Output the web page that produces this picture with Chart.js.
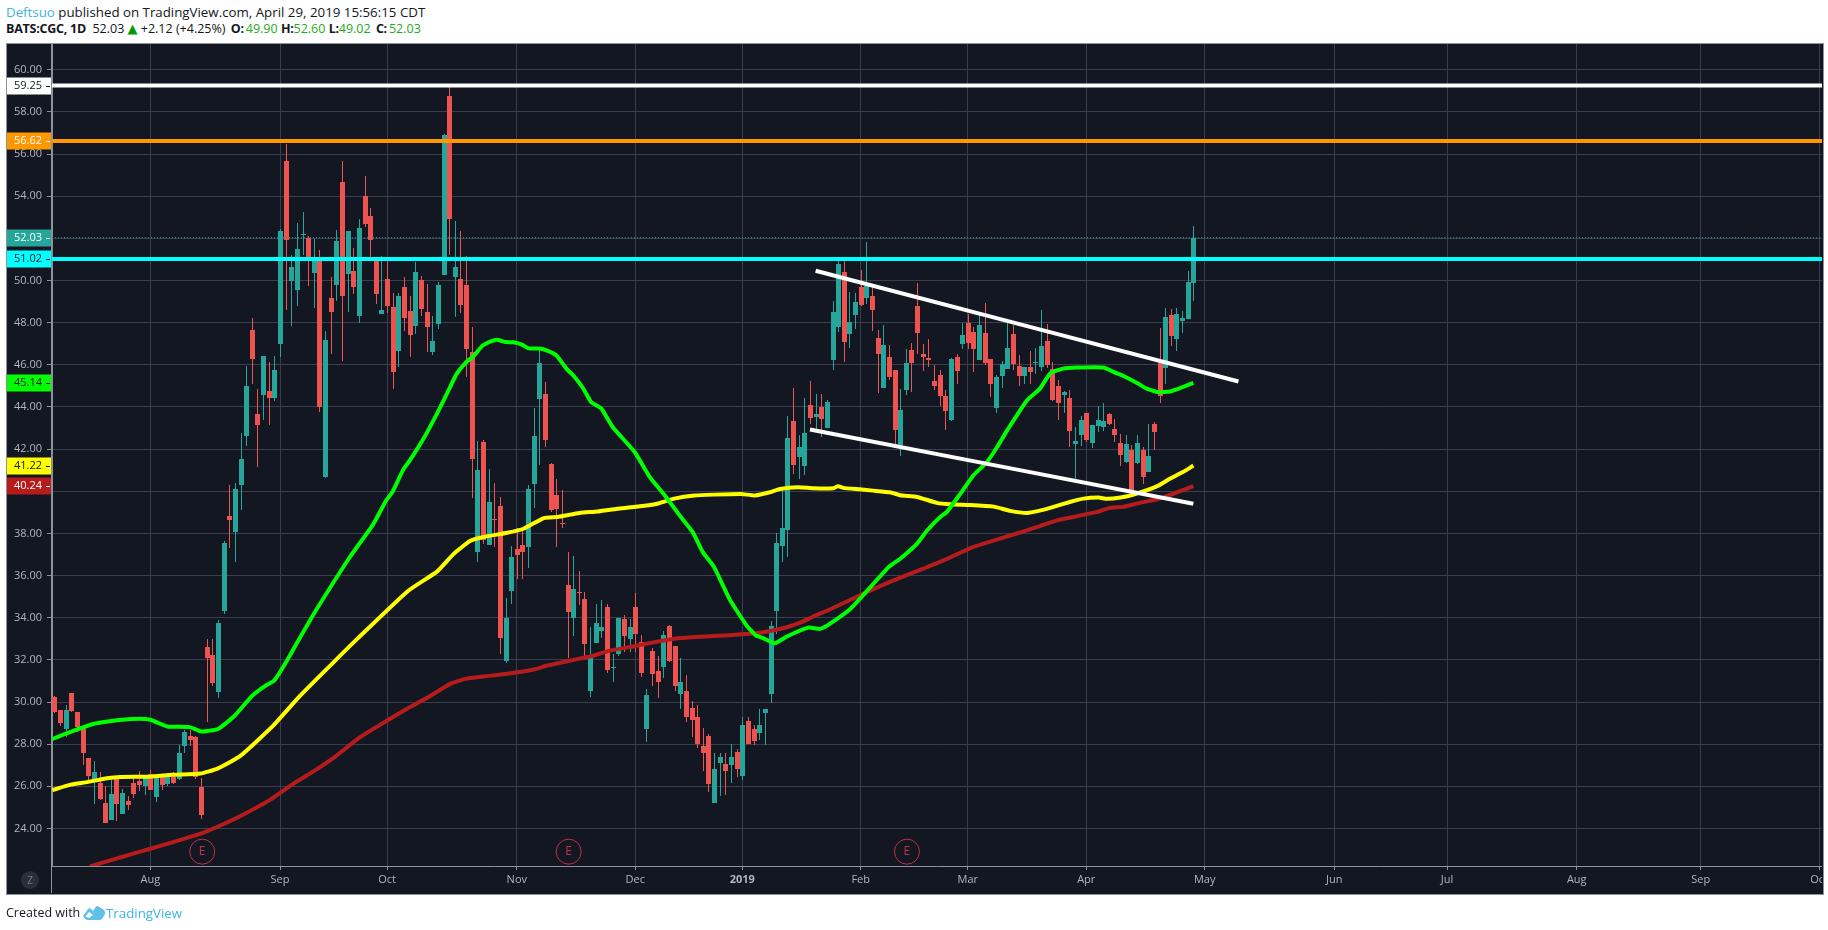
<!DOCTYPE html>
<html>
<head>
<meta charset="utf-8">
<title>BATS:CGC, 1D</title>
<script src="https://cdn.jsdelivr.net/npm/chart.js@4"></script>
<style>
  html, body { margin: 0; padding: 0; background: #fff; overflow: hidden; }
  body { width: 1828px; height: 930px; position: relative; font-family: "Open Sans", sans-serif; color: #131722; }
  .line { position: absolute; left: 6px; font-size: 13.3px; white-space: nowrap; line-height: 18px; }
  .line2 { font-size: 12.5px; }
  .line2 b { letter-spacing: -0.25px; }
  .line2 b.gap { margin-left: 2px; margin-right: 2px; }
  .tri { color: #009900; font-family: "DejaVu Sans"; font-size: 13px; line-height: 12px; }
  .blue { color: #3bb3e4; }
  .up { color: #22ab22; }
  .frame { position: absolute; left: 6px; top: 43px; width: 1816px; height: 850px; border: 1px solid #8f929b; background: #131722; }
  canvas { position: absolute; left: 0; top: 0; }
  .zbtn { position: absolute; left: 21px; top: 871px; width: 18px; height: 18px; border-radius: 50%; background: #2a2e39; color: #787b86; font-size: 10px; line-height: 18px; text-align: center; }
  .logo { position: absolute; left: 82px; top: 905px; }
</style>
</head>
<body>
<div class="line" style="top:3px"><span class="blue">Deftsuo</span> published on TradingView.com, April 29, 2019 15:56:15 CDT</div>
<div class="line line2" style="top:20px"><b>BATS:CGC, 1D</b>&nbsp; 52.03 <span class="tri">▲</span> +2.12 (+4.25%) <b class="gap">O:</b><span class="up">49.90</span> <b>H:</b><span class="up">52.60</span> <b>L:</b><span class="up">49.02</span> <b class="gap">C:</b><span class="up">52.03</span></div>
<div class="frame"><canvas id="chart" width="1815" height="849"></canvas></div>
<div class="zbtn">Z</div>
<div class="line" style="top:904px;font-size:12.5px">Created with</div>
<svg class="logo" width="24" height="16" viewBox="0 0 24 16"><path d="M1 11 L6 4 Q7.5 2.5 9 4 L11 6 L14 1.5 Q15 0.5 16.5 1.5 L22 5 Q23.5 7 23 9 L20 14 Q19 15 17 15 L6 15 Q3 15 1 11 Z M7 7 L3.5 11.5 L7 13 L11 10 Z" fill="#5fc0e8" fill-rule="evenodd"/></svg>
<div class="line blue" style="top:904px;left:106px;font-size:13.3px">TradingView</div>

<script>
// first candle is 17 sessions before Aug 1 2018 (index 0), last one is Apr 29 2019
const firstIndex = -17;

const opens = [
  30.25,29.64,28.72,30.44,29.51,28.73,27.33,26.31,26.17,25.22,
  24.41,26.38,24.70,25.32,26.17,26.23,26.03,26.6,25.51,26.44,
  26.12,26.44,26.35,27.93,28.4,28.35,25.98,32.59,32.21,30.47,
  34.34,38.81,38.05,40.28,42.6,47.64,43.65,44.55,44.74,44.41,
  47.0,55.69,49.99,49.57,52.2,52.02,50.37,51.0,40.69,49.19,
  49.8,54.69,50.33,50.47,48.33,54.03,53.08,50.94,48.43,50.09,
  48.76,46.67,49.71,48.57,47.86,50.04,48.52,46.62,47.95,50.28,
  58.73,50.18,50.09,49.8,46.62,37.1,42.32,37.43,38.7,39.28,
  31.97,35.25,37.24,37.43,37.34,40.33,44.36,44.6,41.28,39.8,
  38.48,35.53,33.97,35.2,34.91,30.5,32.78,33.35,34.53,31.6,
  32.26,33.92,32.97,34.49,32.83,28.74,32.4,31.45,31.64,33.63,
  32.64,30.36,30.5,29.74,29.31,27.93,28.41,25.23,27.13,27.08,
  27.03,27.65,26.47,29.08,28.7,28.51,29.5,30.39,34.33,37.41,
  38.15,43.32,41.61,41.19,44.08,43.51,43.99,42.99,46.22,47.78,
  50.4,47.45,48.35,49.68,49.16,49.26,47.26,44.89,46.36,45.74,
  42.18,44.79,46.69,48.78,46.5,46.31,45.22,45.51,44.51,43.37,
  46.36,46.98,47.97,47.55,46.22,47.5,46.27,43.94,45.46,45.79,
  47.45,45.93,45.46,45.89,46.08,45.89,47.12,45.79,44.98,44.56,
  44.41,42.23,42.66,43.7,42.28,43.09,43.04,43.65,42.94,42.28,
  41.38,41.95,41.33,41.95,40.9,43.18,46.08,45.84,48.35,47.22,48.07,48.16,49.90
];
const highs = [
  30.28,29.64,29.87,30.44,29.54,28.75,27.36,27.22,26.68,26.03,
  26.31,26.4,25.89,25.52,26.39,26.74,26.5,26.79,26.55,26.55,
  26.47,26.69,27.97,28.69,28.69,28.4,26.41,32.97,32.97,33.87,
  37.62,40.28,40.37,42.75,45.93,48.21,44.84,46.4,46.12,46.4,
  52.46,56.48,51.23,52.75,53.27,52.13,51.99,51.47,47.62,50.18,
  52.41,55.69,52.37,51.56,52.94,54.98,53.46,51.0,51.18,51.13,
  49.42,49.4,50.18,49.28,50.9,50.23,49.85,48.33,49.95,56.97,
  59.16,52.84,52.37,51.18,47.81,42.37,42.41,41.04,40.37,39.71,
  34.92,37.38,38.28,38.14,40.28,43.93,46.69,45.17,41.32,40.56,
  40.04,37.1,36.91,36.24,35.2,33.54,34.63,34.82,34.63,32.3,
  34.01,34.11,33.92,35.15,33.16,30.64,32.54,32.16,33.35,33.65,
  32.66,32.07,31.26,30.07,29.84,28.79,28.46,27.56,27.6,27.56,
  28.03,27.75,29.27,29.27,28.93,29.69,29.69,33.85,38.03,40.02,
  43.56,44.89,42.66,44.41,45.22,44.6,44.6,44.32,49.02,50.92,
  50.92,49.45,49.4,50.49,51.82,49.68,47.64,47.88,46.93,45.74,
  44.84,46.74,47.03,49.87,46.98,47.22,45.98,45.74,44.79,46.31,
  46.5,47.97,48.4,47.78,48.35,48.92,46.27,45.51,46.17,47.97,
  47.88,46.46,45.89,46.65,46.79,48.59,47.93,46.12,45.27,44.75,
  44.79,43.04,43.56,43.72,43.13,44.03,44.18,43.7,43.42,42.71,
  42.66,42.18,42.66,42.09,43.18,43.28,47.74,48.69,48.64,48.69,48.54,50.44,52.60
];
const lows = [
  29.5,28.88,28.32,29.55,28.56,27.03,26.31,25.17,25.36,24.24,
  24.41,24.37,24.70,24.89,25.46,25.79,25.6,25.84,25.27,25.84,
  26.03,26.12,26.31,27.59,27.93,26.36,24.46,29.07,30.75,30.18,
  34.16,37.29,36.62,39.09,42.13,45.07,41.13,43.36,43.13,44.27,
  46.39,48.62,47.86,48.81,51.23,49.76,48.71,43.78,40.64,46.53,
  49.04,46.2,48.52,49.38,48.0,52.56,51.09,48.9,48.43,48.47,
  44.87,45.91,47.62,46.39,47.48,48.33,46.62,46.48,47.72,50.28,
  51.23,48.28,48.47,45.44,39.69,36.62,37.5,37.43,37.34,32.3,
  31.83,34.63,35.86,35.86,36.34,39.19,41.23,42.08,39.0,37.34,
  38.24,32.07,33.11,34.58,32.2,30.26,32.78,33.06,31.4,30.93,
  32.2,32.35,32.35,32.35,31.2,28.08,30.78,30.21,31.16,31.9,
  30.5,29.69,29.03,28.32,27.84,26.75,25.75,25.2,25.56,25.6,
  26.18,26.46,26.28,28.0,27.98,28.22,27.98,29.96,33.23,36.65,
  36.88,40.81,40.57,40.76,43.18,42.88,42.56,42.99,45.74,47.55,
  46.12,46.79,47.69,48.78,48.88,47.59,44.65,44.89,45.3,42.23,
  41.66,44.56,44.7,46.5,45.7,45.89,44.79,44.03,42.9,43.32,
  45.08,46.74,46.74,45.65,46.22,45.98,44.46,43.7,44.89,45.79,
  45.74,44.98,45.08,45.08,45.55,45.7,45.84,44.3,43.37,43.7,
  42.09,40.57,42.14,42.33,42.04,42.8,42.85,43.13,42.33,41.19,
  41.33,39.9,41.28,40.33,40.9,41.95,44.18,45.08,46.88,46.65,47.5,48.16,49.02
];
const closes = [
  29.55,29.0,29.64,29.57,28.81,27.59,26.47,26.66,25.41,24.27,
  25.65,25.17,25.70,25.13,25.65,26.08,26.42,25.84,26.42,26.08,
  26.42,26.17,27.59,28.59,28.21,26.44,24.62,32.08,30.9,33.73,
  37.53,38.62,40.09,41.51,44.98,46.26,43.13,46.4,44.41,45.74,
  52.37,51.94,50.66,51.51,52.22,51.13,50.95,44.01,47.19,48.52,
  51.89,49.28,52.37,49.71,52.51,52.7,51.94,49.38,48.62,48.81,
  45.67,49.28,48.24,47.43,50.42,48.66,47.81,47.15,49.8,56.88,
  52.94,50.66,48.85,46.77,41.54,40.99,37.67,39.47,38.68,33.02,
  33.97,36.86,36.96,37.1,40.09,42.6,46.07,42.41,39.09,39.14,
  38.46,34.25,35.34,35.15,32.73,32.1,33.73,33.54,31.5,31.68,
  34.01,33.11,33.54,33.25,31.4,30.31,31.35,30.97,33.16,31.97,
  30.74,30.93,29.31,29.17,28.03,27.56,26.13,26.8,27.37,26.75,
  27.37,26.8,28.89,28.03,28.17,28.89,29.65,33.61,37.55,38.27,
  42.52,41.23,42.09,42.75,43.47,43.65,43.42,44.22,48.5,50.78,
  47.07,48.02,48.97,48.83,49.73,48.59,46.5,46.93,45.41,42.89,
  43.84,46.08,46.08,47.5,46.36,46.22,44.98,44.51,43.8,46.27,
  45.7,47.41,47.03,46.74,47.88,46.08,45.08,45.41,46.03,46.79,
  46.03,45.46,45.89,45.65,46.12,46.88,45.98,44.32,44.18,44.7,
  42.85,42.37,43.37,42.42,43.13,43.37,43.32,43.18,42.66,41.71,
  42.23,40.05,42.28,40.66,41.66,42.8,44.51,48.26,47.36,48.4,48.21,49.92,52.03
];

// moving averages as (bar index, price)
const greenX = [-17.4,-15,-10,-5,-2,0,3,7,9,12,15,18,20,22,24,26,29.2,35.4,39.5,41.8,43,44.9,46,48.6,50.8,52,53,54.3,56,57.4,58.9,60.3,61.5,63,64.4,65.9,67.1,69,70.4,72,73.8,75,76.8,78.2,80,82,85.9,88.6,91.5,93.9,96.2,98,100,102.7,105.7,107.4,108.7,110.8,112.9,116.7,118.8,120.5,124.2,127.2,131,133,136,137.8,140.1,141.3,143.7,146,148.4,150.2,152,155.5,157.8,159.6,161.9,164.3,169,171.1,172.6,175,176.7,178.8,180.9,183.2,185];
const greenY = [28.24,28.5,28.97,29.16,29.21,29.16,28.84,28.81,28.6,28.72,29.36,30.28,30.7,31.03,31.86,32.8,34.27,36.88,38.42,39.55,39.99,41.05,41.45,42.56,43.66,44.3,44.85,45.56,46.12,46.43,46.9,47.1,47.19,47.08,47.07,46.96,46.78,46.77,46.67,46.45,45.82,45.5,44.87,44.23,43.92,43.05,41.86,40.67,39.72,38.85,38.06,37.11,36.4,34.9,33.65,33.16,33.03,32.79,33.11,33.53,33.47,33.71,34.43,35.3,36.41,36.8,37.52,38.15,38.78,39.02,39.89,40.76,41.39,42.1,42.9,44.32,44.87,45.59,45.82,45.87,45.87,45.63,45.47,45.14,44.87,44.7,44.73,44.95,45.14];
const yellowX = [-17.4,-14.1,-11.2,-7.7,-5.3,0,3.9,8.9,11.9,15.9,21.8,26.5,32.4,36.6,45.7,50.9,53.8,56.7,59.1,63.3,66.2,69.8,72.2,74.5,76.3,79.3,82.8,85.8,89.9,92.9,96.5,100,104.8,107.2,109.9,111.7,114.9,117.6,121.1,122,122.9,125.8,128.2,131.2,133,136,139.5,141.9,145.4,149.6,152.5,155.5,158.5,160.2,163.1,165.5,168.2,169.7,172.1,174.4,178.6,180.9,183.2,185];
const yellowY = [25.82,26.08,26.2,26.38,26.44,26.46,26.55,26.61,26.84,27.43,28.88,30.28,31.86,32.97,35.27,36.2,37.03,37.64,37.83,38.03,38.22,38.73,38.78,38.89,38.98,39.04,39.17,39.25,39.41,39.65,39.8,39.84,39.87,39.8,39.95,40.11,40.19,40.14,40.14,40.24,40.16,40.09,40.03,39.95,39.81,39.73,39.45,39.38,39.35,39.27,39.07,38.97,39.13,39.26,39.49,39.65,39.7,39.64,39.7,39.84,40.24,40.6,40.92,41.22];
const redX = [-10.7,-7.7,-3,0,4.1,8.8,12.4,15.9,21.3,25.4,29,32.5,37.2,42,45.6,49.1,53.2,55.9,59.1,63.3,68,70.4,75.1,78.7,81.1,85.8,89.4,93,96.5,100.7,104.8,108.7,112.9,115.5,117.6,120.4,126.5,131.2,137.1,140.7,146,150.7,154.9,157.8,160.8,163.7,167.9,170.2,172.6,175.5,178.6,181.5,185];
const redY = [22.2,22.44,22.81,23.04,23.36,23.74,24.14,24.58,25.37,26.13,26.72,27.35,28.33,29.12,29.69,30.2,30.86,31.1,31.21,31.34,31.54,31.73,32.0,32.21,32.41,32.65,32.84,33,33.08,33.14,33.21,33.31,33.55,33.79,34.06,34.38,35.14,35.7,36.33,36.72,37.36,37.75,38.1,38.35,38.62,38.78,39.02,39.21,39.26,39.45,39.62,39.89,40.24];

// hand drawn trend lines
const upperTrendX = [118, 193];
const upperTrendY = [50.46, 45.21];
const lowerTrendX = [117, 185];
const lowerTrendY = [42.93, 39.41];

// horizontal levels and price tags
const levelValues = [59.25, 56.62, 51.02];
const levelColors = ['#ffffff', '#ff9800', '#00ffff'];
const lastPrice = 52.03;
const tagValues = [59.25, 56.62, 52.03, 51.02, 45.14, 41.22, 40.24];
const tagColors = ['#ffffff', '#ff9800', '#26a69a', '#00ffff', '#00ff00', '#ffff00', '#b71c1c'];
const tagText = ['#131722', '#ffffff', '#ffffff', '#131722', '#131722', '#131722', '#ffffff'];

const priceTicks = [24,26,28,30,32,34,36,38,40,42,44,46,48,50,52,54,56,58,60];
const monthIndex = [0,23,42,65,86,105,126,145,166,187,210,230,253,275,296];
const monthLabels = ['Aug','Sep','Oct','Nov','Dec','2019','Feb','Mar','Apr','May','Jun','Jul','Aug','Sep','Oct'];

const earningsX = [9.2, 74.2, 134.2];
const earningsY = [22.9, 22.9, 22.9];

const xMin = -17.44, xMax = 296.5;
const yMin = 22.22, yMax = 61.22;

const upColor = '#26a69a';
const downColor = '#ef5350';
const gridColor = '#3a3e4e';
const axisColor = '#8f929b';
const labelColor = '#b2b5be';

const indices = opens.map((_, i) => firstIndex + i);
const candleColors = opens.map((o, i) => closes[i] >= o ? upColor : downColor);

function pts(xs, ys) {
  return xs.map((x, i) => ({x: x, y: ys[i]}));
}

function lineSet(xs, ys, color, width, order, dash) {
  return {
    type: 'line',
    data: pts(xs, ys),
    borderColor: color,
    borderWidth: width,
    borderDash: dash || [],
    pointRadius: 0,
    tension: 0.15,
    borderJoinStyle: 'round',
    borderCapStyle: 'butt',
    order: order
  };
}

const datasets = [
  {
    type: 'bar',
    data: indices.map((x, i) => ({x: x, y: [lows[i], highs[i]]})),
    backgroundColor: candleColors,
    barThickness: 1,
    grouped: false,
    inflateAmount: 0,
    order: 11
  },
  {
    type: 'bar',
    data: indices.map((x, i) => ({x: x, y: [opens[i], closes[i]]})),
    backgroundColor: candleColors,
    barThickness: 5,
    grouped: false,
    inflateAmount: 0,
    order: 10
  },
  lineSet(redX, redY, '#b71c1c', 4, 5),
  lineSet(yellowX, yellowY, '#ffff00', 4, 4),
  lineSet(greenX, greenY, '#00ff00', 4, 3),
  lineSet(upperTrendX, upperTrendY, '#ffffff', 4, 2),
  lineSet(lowerTrendX, lowerTrendY, '#ffffff', 4, 2),
  lineSet([xMin, xMax], [lastPrice, lastPrice], '#26a69a', 1, 9, [1, 2]),
  {
    type: 'scatter',
    data: pts(earningsX, earningsY),
    pointRadius: 12.5,
    pointBackgroundColor: 'rgba(0,0,0,0)',
    pointBorderColor: '#c13148',
    pointBorderWidth: 1,
    showLine: false,
    order: 1
  }
];
levelValues.forEach((v, i) => {
  datasets.push(lineSet([xMin, xMax], [v, v], levelColors[i], 4, 1.5));
});

// candles get snapped to whole pixels so wicks stay crisp
const snapBars = {
  id: 'snapBars',
  afterDatasetsUpdate(chart) {
    chart.getSortedVisibleDatasetMetas().forEach(meta => {
      if (meta.type !== 'bar') return;
      meta.data.forEach(el => {
        el.x = Math.round(el.x) + 0.5;
        el.y = Math.round(el.y);
        el.base = Math.round(el.base);
        if (el.y === el.base) el.base = el.y + 1;
      });
    });
  }
};

const overlays = {
  id: 'overlays',
  afterDraw(chart) {
    const ctx = chart.ctx;
    const y = chart.scales.y;
    const area = chart.chartArea;
    ctx.save();

    // axis line runs down through the time scale
    ctx.strokeStyle = axisColor;
    ctx.lineWidth = 1;
    ctx.beginPath();
    ctx.moveTo(area.left - 0.5, 0);
    ctx.lineTo(area.left - 0.5, chart.height);
    ctx.stroke();

    // price tags
    ctx.font = '11px "Open Sans"';
    ctx.textAlign = 'right';
    ctx.textBaseline = 'middle';
    tagValues.forEach((v, i) => {
      const py = Math.round(y.getPixelForValue(v));
      ctx.fillStyle = tagColors[i];
      ctx.fillRect(0, py - 8.5, area.left - 1, 17);
      ctx.fillStyle = tagText[i];
      ctx.fillRect(area.left - 6, py, 4, 1);
      ctx.fillText(v.toFixed(2), area.left - 10, py);
    });

    // earnings marks
    const em = chart.getDatasetMeta(8);
    ctx.fillStyle = '#c13148';
    ctx.font = '12px "Open Sans"';
    ctx.textAlign = 'center';
    em.data.forEach(pt => ctx.fillText('E', pt.x, pt.y));
    ctx.restore();
  }
};

new Chart(document.getElementById('chart'), {
  type: 'bar',
  data: {datasets: datasets},
  plugins: [snapBars, overlays],
  options: {
    responsive: false,
    animation: false,
    events: [],
    layout: {padding: 0, autoPadding: false},
    plugins: {legend: {display: false}, tooltip: {enabled: false}},
    scales: {
      x: {
        type: 'linear',
        min: xMin,
        max: xMax,
        offset: false,
        afterBuildTicks(scale) {
          scale.ticks = monthIndex.map(v => ({value: v}));
        },
        afterFit(scale) {
          scale.height = 27;
          scale.paddingLeft = 0;
          scale.paddingRight = 0;
        },
        grid: {offset: false, color: gridColor, tickColor: axisColor, tickLength: 4},
        border: {color: axisColor},
        ticks: {
          autoSkip: false,
          maxRotation: 0,
          padding: 3,
          color: labelColor,
          font: ctx => ({family: '"Open Sans"', size: 11, weight: ctx.tick && ctx.tick.value === 105 ? 'bold' : 'normal'}),
          callback: v => monthLabels[monthIndex.indexOf(v)]
        }
      },
      y: {
        type: 'linear',
        min: yMin,
        max: yMax,
        afterBuildTicks(scale) {
          scale.ticks = priceTicks.map(v => ({value: v}));
        },
        afterFit(scale) {
          scale.width = 45;
          scale.paddingTop = 0;
          scale.paddingBottom = 0;
        },
        grid: {color: gridColor, tickColor: axisColor, tickLength: 5},
        border: {color: axisColor},
        ticks: {
          autoSkip: false,
          padding: 5,
          color: labelColor,
          font: {family: '"Open Sans"', size: 11},
          callback: v => v.toFixed(2)
        }
      }
    }
  }
});
</script>
</body>
</html>
